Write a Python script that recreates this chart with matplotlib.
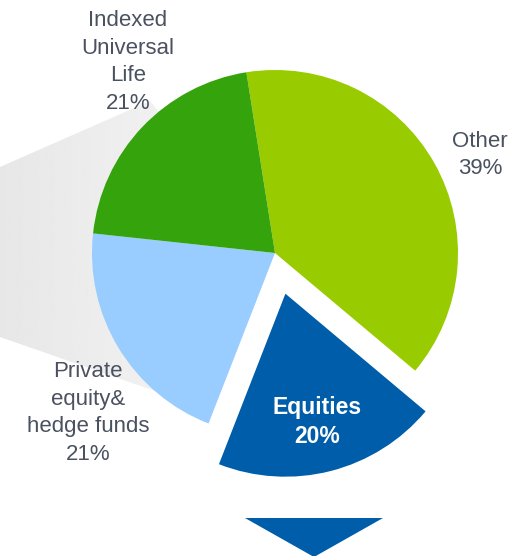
import numpy as np
import matplotlib.pyplot as plt
from matplotlib.patches import Polygon

plt.rcParams['font.family'] = ['Liberation Sans', 'DejaVu Sans']

# data
categories = ['Other', 'Equities', 'Private\nequity&\nhedge funds', 'Indexed\nUniversal\nLife']
shares = [39, 20, 21, 21]
colors = ['#99CC00', '#005DAA', '#99CCFF', '#35A40C']
explode = [0, 42, 0, 0]

W, H = 523, 556
fig = plt.figure(figsize=(W / 100, H / 100), dpi=100)
ax = fig.add_axes([0, 0, 1, 1])

cx, cy, r = 275, H - 253, 183

# grey callout cone on the left, behind the pie
cone = Polygon([(0, H - 167), (150, H - 101), (cx, cy), (155, H - 391), (0, H - 337)],
               closed=True, facecolor='none', edgecolor='none')
ax.add_patch(cone)
grad = np.linspace(0.905, 0.97, 256).reshape(1, -1)
img = ax.imshow(grad, cmap='gray', vmin=0, vmax=1, extent=(0, cx, H - 440, H - 40),
                aspect='auto', zorder=0)
img.set_clip_path(cone)

wedges, _ = ax.pie(shares, colors=colors, startangle=99, counterclock=False,
                   explode=explode, center=(cx, cy), radius=r,
                   wedgeprops=dict(linewidth=0), frame=True)
for w in wedges:
    w.set_zorder(2)

# arrow under the chart
ax.add_patch(Polygon([(245, H - 518), (383, H - 518), (314, H - 557)], closed=True,
                     facecolor='#005DAA', edgecolor='none', zorder=2))

txt = dict(color='#4A5160', fontsize=16, ha='center', va='center', linespacing=1.4)
ax.text(128, H - 62, f"{categories[3]}\n{shares[3]}%", **txt)
ax.text(480, H - 155, f"{categories[0]}\n{shares[0]}%", **txt)
ax.text(88, H - 413, f"{categories[2]}\n{shares[2]}%", **txt)
ax.text(317, H - 422, f"{categories[1]}\n{shares[1]}%", color='white', fontsize=16.5,
        fontweight='bold', ha='center', va='center', linespacing=1.35, zorder=3)

ax.set_xlim(0, W)
ax.set_ylim(0, H)
ax.set_aspect('auto')
ax.axis('off')

fig.savefig('out.png', dpi=100)
